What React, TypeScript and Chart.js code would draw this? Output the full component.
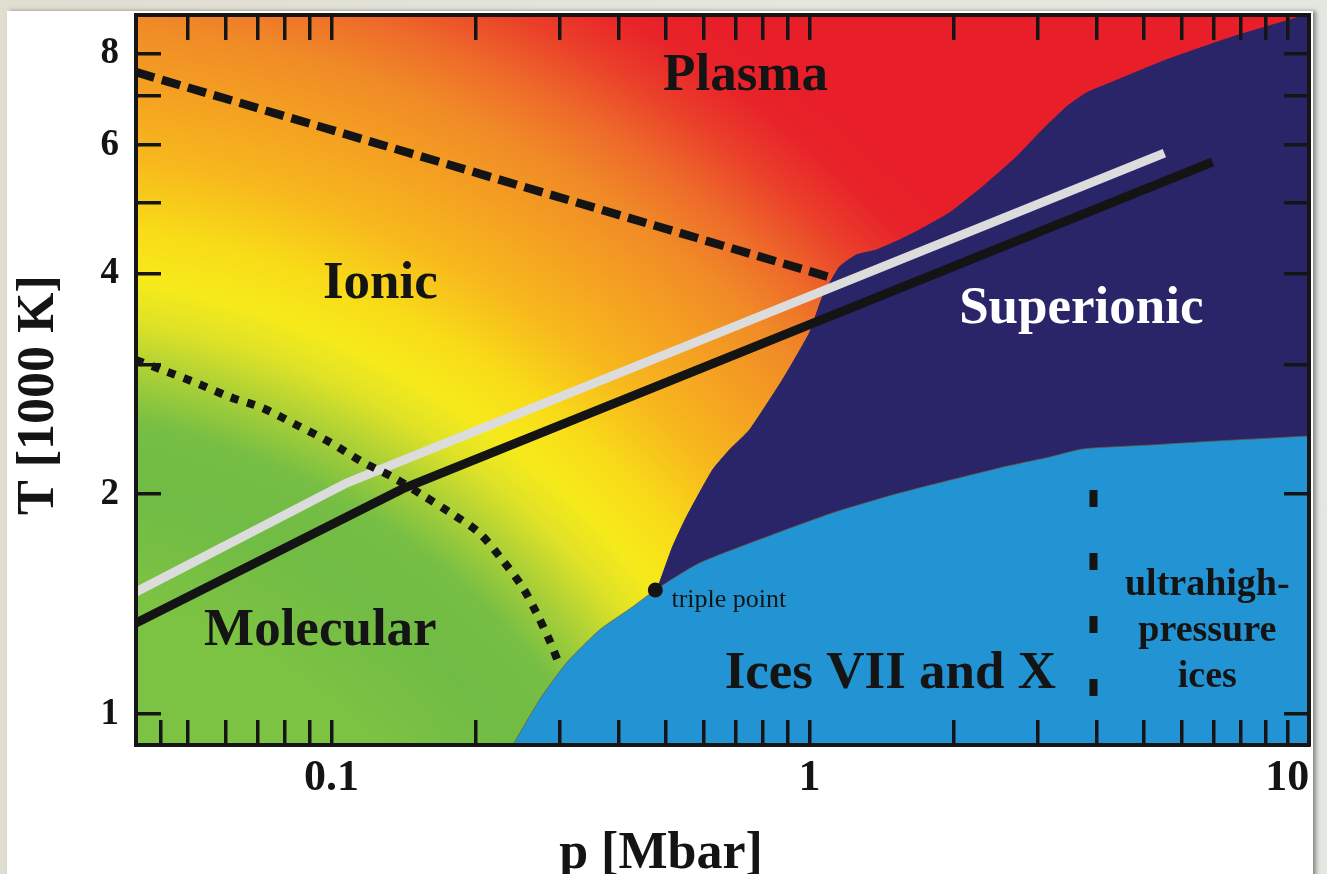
import React, { useEffect, useRef } from 'react';
import { Chart, registerables } from 'chart.js';

Chart.register(...registerables);

// ---------- axis ranges & ticks ----------
const pMin = 0.039;
const pMax = 11.1;
const tMin = 0.907;
const tMax = 9.04;

const xTicksBottom = [0.044, 0.05, 0.06, 0.07, 0.08, 0.09, 0.1, 0.2, 0.3, 0.4, 0.5, 0.6, 0.7, 0.8, 0.9, 1, 2, 3, 4, 5, 6, 7, 8, 9, 10];
const xTicksTop = [0.05, 0.06, 0.07, 0.08, 0.09, 0.1, 0.2, 0.3, 0.4, 0.5, 0.6, 0.7, 0.8, 0.9, 1, 2, 3, 4, 5, 6, 7, 8, 9, 10];
const xTickLabels = [0.1, 1, 10];
const yTicks = [1, 2, 3, 4, 5, 6, 7, 8];
const yTickLabels = [1, 2, 4, 6, 8];

// ---------- phase boundaries (p in Mbar, T in 1000 K) ----------
const superionicP = [0.476, 0.4855, 0.517, 0.553, 0.627, 0.68, 0.749, 0.878, 1.0, 1.065, 1.155, 1.254, 1.381, 1.543, 1.699, 1.963, 2.301, 2.711, 3.072, 3.449, 3.798, 4.304, 5.582, 7.674, 10.59, 11.1];
const superionicT = [1.478, 1.511, 1.692, 1.86, 2.157, 2.297, 2.446, 2.864, 3.32, 3.719, 4.088, 4.246, 4.313, 4.451, 4.594, 4.846, 5.259, 5.781, 6.294, 6.767, 7.071, 7.319, 7.848, 8.436, 8.985, 9.1];

const iceP = [0.238, 0.2723, 0.3101, 0.3637, 0.4263, 0.476, 0.5886, 0.813, 1.117, 1.543, 2.498, 3.178, 3.725, 5.144, 7.1, 11.1];
const iceT = [0.9, 1.045, 1.174, 1.303, 1.401, 1.478, 1.609, 1.747, 1.884, 2.006, 2.171, 2.246, 2.304, 2.333, 2.363, 2.401];

const meltingWhiteP = [0.039, 0.1075, 5.53];
const meltingWhiteT = [1.469, 2.07, 5.85];

const meltingBlackP = [0.039, 0.1408, 6.97];
const meltingBlackT = [1.332, 2.032, 5.69];

const plasmaDashP = [0.039, 1.117];
const plasmaDashT = [7.55, 3.948];

const molecularDotP = [0.039, 0.0443, 0.0522, 0.0612, 0.0717, 0.0845, 0.099, 0.1161, 0.1341, 0.155, 0.1765, 0.204, 0.2279, 0.2509, 0.2685, 0.2858, 0.2999];
const molecularDotT = [3.05, 2.955, 2.836, 2.715, 2.622, 2.485, 2.356, 2.212, 2.11, 1.993, 1.889, 1.768, 1.624, 1.492, 1.375, 1.262, 1.167];

const ultrahighP = [3.93, 3.93];
const ultrahighT = [2.025, 1.045];

const triplePointP = [0.476];
const triplePointT = [1.478];

// ---------- text annotations (anchor in data coordinates) ----------
const labelTexts = [['Plasma'], ['Ionic'], ['Superionic'], ['Molecular'], ['Ices VII and X'], ['ultrahigh-', 'pressure', 'ices'], ['triple point']];
const labelP = [0.735, 0.1266, 3.707, 0.0948, 1.477, 6.8, 0.5145];
const labelT = [7.14, 3.708, 3.427, 1.243, 1.085, 1.455, 1.401];

// styles for the annotations (kept apart from the values)
const SERIF = '"Liberation Serif", "Times New Roman", serif';
const labelStyles = [
  { font: `bold 53px ${SERIF}`, color: '#141414', align: 'center', gap: 0 },
  { font: `bold 53px ${SERIF}`, color: '#141414', align: 'center', gap: 0 },
  { font: `bold 53px ${SERIF}`, color: '#ffffff', align: 'center', gap: 0 },
  { font: `bold 53px ${SERIF}`, color: '#141414', align: 'center', gap: 0 },
  { font: `bold 53px ${SERIF}`, color: '#141414', align: 'center', gap: 0 },
  { font: `bold 38px ${SERIF}`, color: '#141414', align: 'center', gap: 46 },
  { font: `26px ${SERIF}`, color: '#141414', align: 'left', gap: 0 },
];

const pts = (ps: number[], ts: number[]) => ps.map((p, i) => ({ x: p, y: ts[i] }));

const bgStops: [number, string][] = [
  [0.0, '#7cc243'],
  [0.4, '#7cc243'],
  [0.476, '#71bc45'],
  [0.53, '#76be44'],
  [0.568, '#a8cf38'],
  [0.607, '#dfe227'],
  [0.637, '#f6ea1b'],
  [0.676, '#f8dc18'],
  [0.73, '#f7b81d'],
  [0.791, '#f49d22'],
  [0.833, '#f08b27'],
  [0.876, '#ee6b2a'],
  [0.922, '#ea3f2a'],
  [0.96, '#e8232a'],
  [1.0, '#e81e28'],
];

const backgroundPlugin = {
  id: 'phaseBackground',
  beforeDatasetsDraw(chart: any) {
    const { ctx, chartArea } = chart;
    const { left, top, right, bottom } = chartArea;
    const w = right - left;
    const h = bottom - top;
    const cx = left - 0.116 * w;
    const cy = top + 1.486 * h;
    const R = 1.11 * w;
    const g = ctx.createRadialGradient(cx, cy, 0, cx, cy, R);
    bgStops.forEach(([o, c]) => g.addColorStop(o, c));
    ctx.save();
    ctx.fillStyle = g;
    ctx.fillRect(left, top, w, h);
    ctx.restore();
  },
};

const labelsPlugin = {
  id: 'phaseLabels',
  afterDatasetsDraw(chart: any) {
    const { ctx } = chart;
    const xs = chart.scales.x;
    const ys = chart.scales.y;
    ctx.save();
    labelTexts.forEach((lines, i) => {
      const st = labelStyles[i];
      ctx.font = st.font;
      ctx.fillStyle = st.color;
      ctx.textAlign = st.align;
      ctx.textBaseline = 'alphabetic';
      const px = xs.getPixelForValue(labelP[i]);
      const py = ys.getPixelForValue(labelT[i]);
      lines.forEach((line, j) => ctx.fillText(line, px, py + j * st.gap));
    });
    ctx.restore();
  },
  afterDraw(chart: any) {
    const { ctx, chartArea } = chart;
    ctx.save();
    ctx.fillStyle = '#141414';
    ctx.font = `bold 52px ${SERIF}`;
    ctx.textAlign = 'center';
    ctx.textBaseline = 'alphabetic';
    ctx.fillText('p [Mbar]', chartArea.left + 525, chartArea.bottom + 123);
    ctx.translate(chartArea.left - 83, chartArea.top + 380);
    ctx.rotate(-Math.PI / 2);
    ctx.fillText('T [1000 K]', 0, 0);
    ctx.restore();
  },
};

const tickGrid = {
  drawOnChartArea: false,
  drawTicks: true,
  tickLength: -25,
  color: '#151515',
  lineWidth: 3.5,
  z: 1,
};
const axisBorder = { display: true, color: '#151515', width: 4, z: 1 };

export default function App() {
  const ref = useRef<HTMLCanvasElement>(null);

  useEffect(() => {
    if (!ref.current) return;
    const lineBase = { type: 'line', pointRadius: 0, pointHoverRadius: 0, fill: false };
    const chart = new Chart(ref.current, {
      type: 'line',
      data: {
        datasets: [
          {
            type: 'scatter',
            label: 'triple point',
            data: pts(triplePointP, triplePointT),
            pointRadius: 7.5,
            pointHoverRadius: 7.5,
            pointBackgroundColor: '#141414',
            pointBorderWidth: 0,
            order: 0,
          },
          {
            ...lineBase,
            label: 'melting line (white)',
            data: pts(meltingWhiteP, meltingWhiteT),
            borderColor: '#dcdcdc',
            borderWidth: 9,
            borderCapStyle: 'butt',
            order: 2,
          },
          {
            ...lineBase,
            label: 'melting line (black)',
            data: pts(meltingBlackP, meltingBlackT),
            borderColor: '#141414',
            borderWidth: 9,
            borderCapStyle: 'butt',
            order: 3,
          },
          {
            ...lineBase,
            label: 'ionic-plasma',
            data: pts(plasmaDashP, plasmaDashT),
            borderColor: '#141414',
            borderWidth: 8.5,
            borderDash: [19, 8],
            borderCapStyle: 'butt',
            order: 4,
          },
          {
            ...lineBase,
            label: 'molecular-ionic',
            data: pts(molecularDotP, molecularDotT),
            borderColor: '#141414',
            borderWidth: 8,
            borderDash: [8, 9],
            borderCapStyle: 'butt',
            tension: 0.3,
            order: 1,
          },
          {
            ...lineBase,
            label: 'ultrahigh-pressure ices',
            data: pts(ultrahighP, ultrahighT),
            borderColor: '#141414',
            borderWidth: 8,
            borderDash: [17, 46],
            borderCapStyle: 'butt',
            order: 5,
          },
          {
            ...lineBase,
            label: 'Ices VII and X',
            data: pts(iceP, iceT),
            borderColor: 'rgba(110,90,50,0.7)',
            borderWidth: 1,
            backgroundColor: '#2294d3',
            fill: 'start',
            tension: 0.2,
            order: 8,
          },
          {
            ...lineBase,
            label: 'Superionic',
            data: pts(superionicP, superionicT),
            borderColor: '#2a2568',
            borderWidth: 1,
            backgroundColor: '#2a2568',
            fill: 'start',
            tension: 0.15,
            order: 9,
          },
        ],
      },
      options: {
        responsive: false,
        animation: false,
        events: [],
        layout: { padding: 0 },
        plugins: {
          legend: { display: false },
          tooltip: { enabled: false },
        },
        scales: {
          x: {
            type: 'logarithmic',
            position: 'bottom',
            min: pMin,
            max: pMax,
            grid: tickGrid,
            border: axisBorder,
            afterBuildTicks: (s: any) => {
              s.ticks = xTicksBottom.map((v) => ({ value: v }));
            },
            afterFit: (s: any) => {
              s.height = 129;
              s.paddingLeft = 0;
              s.paddingRight = 0;
            },
            ticks: {
              autoSkip: false,
              maxRotation: 0,
              minRotation: 0,
              padding: 32,
              color: '#141414',
              font: { family: SERIF, weight: 'bold', size: 44 },
              callback: (v: any) => (xTickLabels.includes(Number(v)) ? String(v) : ''),
            },
          },
          x2: {
            type: 'logarithmic',
            position: 'top',
            min: pMin,
            max: pMax,
            grid: tickGrid,
            border: axisBorder,
            afterBuildTicks: (s: any) => {
              s.ticks = xTicksTop.map((v) => ({ value: v }));
            },
            afterFit: (s: any) => {
              s.height = 15;
              s.paddingLeft = 0;
              s.paddingRight = 0;
            },
            ticks: { display: false, autoSkip: false, maxRotation: 0 },
          },
          y: {
            type: 'logarithmic',
            position: 'left',
            min: tMin,
            max: tMax,
            grid: tickGrid,
            border: axisBorder,
            afterBuildTicks: (s: any) => {
              s.ticks = yTicks.map((v) => ({ value: v }));
            },
            afterFit: (s: any) => {
              s.width = 136;
              s.paddingTop = 0;
              s.paddingBottom = 0;
            },
            ticks: {
              autoSkip: false,
              padding: 42,
              color: '#141414',
              font: { family: SERIF, weight: 'bold', size: 37 },
              callback: (v: any) => (yTickLabels.includes(Number(v)) ? String(v) : ''),
            },
          },
          y2: {
            type: 'logarithmic',
            position: 'right',
            min: tMin,
            max: tMax,
            grid: tickGrid,
            border: axisBorder,
            afterBuildTicks: (s: any) => {
              s.ticks = yTicks.map((v) => ({ value: v }));
            },
            afterFit: (s: any) => {
              s.width = 18;
              s.paddingTop = 0;
              s.paddingBottom = 0;
            },
            ticks: { display: false, autoSkip: false },
          },
        },
      },
      plugins: [backgroundPlugin, labelsPlugin],
    } as any);
    return () => chart.destroy();
  }, []);

  return (
    <div
      style={{
        position: 'absolute',
        left: 0,
        top: 0,
        width: 1327,
        height: 874,
        overflow: 'hidden',
        background: 'linear-gradient(90deg, #e0ddd1 0%, #e5e6dd 60%, #e2e8e0 100%)',
      }}
    >
      <div
        style={{
          position: 'absolute',
          left: 7,
          top: 11,
          width: 1306,
          height: 880,
          background: '#ffffff',
          boxShadow: '3px 0 4px rgba(60,60,60,0.55)',
        }}
      />
      <canvas
        ref={ref}
        width={1327}
        height={874}
        style={{ position: 'absolute', left: 0, top: 0, width: 1327, height: 874, display: 'block' }}
      />
    </div>
  );
}
